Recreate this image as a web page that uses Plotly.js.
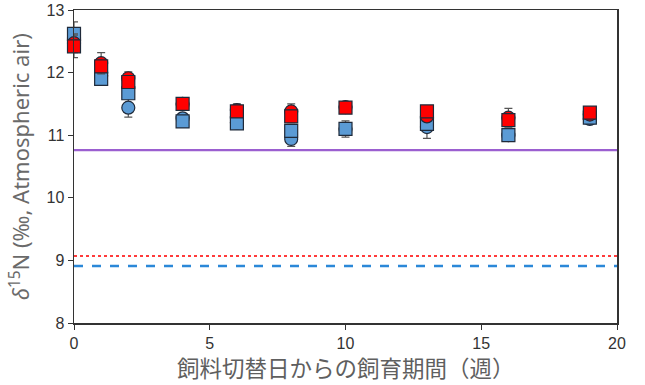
<!DOCTYPE html>
<html>
<head>
<meta charset="utf-8">
<script src="https://cdn.plot.ly/plotly-3.0.1.min.js"></script>
<style>
  html, body { margin: 0; padding: 0; background: #fff; }
  #chart { width: 645px; height: 385px; }
</style>
</head>
<body>
<div id="chart"></div>
<script>
// Sampling weeks after the feed switch
const weeks = [0, 1, 2, 4, 6, 8, 10, 13, 16, 19];

// δ15N means and standard errors per group
const blueCircle    = [12.55, 11.95, 11.44, 11.27, 11.20, 10.94, 11.10, 11.13, 11.00, 11.26];
const blueCircleErr = [0.15, 0.08, 0.15, 0.08, 0.08, 0.12, 0.10, 0.18, 0.08, 0.06];
const blueSquare    = [12.62, 11.90, 11.67, 11.22, 11.19, 11.07, 11.10, 11.18, 11.00, 11.28];
const blueSquareErr = [0.19, 0.06, 0.08, 0.06, 0.08, 0.08, 0.13, 0.08, 0.06, 0.05];
const redCircle     = [12.47, 12.15, 11.91, 11.50, 11.40, 11.38, 11.45, 11.30, 11.28, 11.33];
const redCircleErr  = [0.15, 0.17, 0.10, 0.06, 0.10, 0.12, 0.06, 0.08, 0.15, 0.05];
const redSquare     = [12.42, 12.10, 11.85, 11.50, 11.38, 11.30, 11.44, 11.38, 11.24, 11.36];
const redSquareErr  = [0.18, 0.08, 0.06, 0.05, 0.06, 0.10, 0.05, 0.06, 0.08, 0.05];

// Reference levels drawn across the full period
const spanWeeks   = [0, 20];
const purpleLevel = [10.76, 10.76];
const redLevel    = [9.07, 9.07];
const blueLevel   = [8.91, 8.91];

// Axis titles
const xTitle = '飼料切替日からの飼育期間（週）';
const yTitle = '<i>δ</i><sup>15</sup>N (‰, Atmospheric air)';

const blueFill = '#5b9bd5';
const redFill  = '#ff0000';
const edge     = '#1f2a3a';

function series(y, err, symbol, fill) {
  return {
    x: weeks, y: y, type: 'scatter', mode: 'markers', cliponaxis: false,
    marker: { symbol: symbol, size: 13, color: fill, line: { color: edge, width: 1.2 } },
    error_y: { type: 'data', array: err, visible: true, color: '#555', thickness: 1.2, width: 4 },
    showlegend: false, hoverinfo: 'skip'
  };
}

function level(y, color, dash, width) {
  return {
    x: spanWeeks, y: y, type: 'scatter', mode: 'lines',
    line: { color: color, dash: dash, width: width },
    showlegend: false, hoverinfo: 'skip'
  };
}

const data = [
  level(purpleLevel, '#9b5fd0', 'solid', 2.2),
  level(redLevel, '#ff3b3b', 'dot', 2),
  level(blueLevel, '#2b88d8', 'dash', 2.4),
  series(blueCircle, blueCircleErr, 'circle', blueFill),
  series(blueSquare, blueSquareErr, 'square', blueFill),
  series(redCircle, redCircleErr, 'circle', redFill),
  series(redSquare, redSquareErr, 'square', redFill)
];

const axisCommon = {
  showgrid: false, zeroline: false,
  showline: true, mirror: true, linecolor: '#333', linewidth: 1.5,
  ticks: 'outside', ticklen: 5, tickcolor: '#333',
  tickfont: { size: 16, color: '#333' }
};

const layout = {
  width: 645, height: 385,
  margin: { l: 74, r: 28, t: 10, b: 62 },
  paper_bgcolor: '#fff', plot_bgcolor: '#fff',
  font: { family: 'Liberation Sans, Arial, sans-serif', color: '#333' },
  xaxis: Object.assign({ range: [0, 20], dtick: 5, tick0: 0 }, axisCommon),
  yaxis: Object.assign({ range: [8, 13], dtick: 1, tick0: 8 }, axisCommon),
  annotations: [
    { text: xTitle, xref: 'paper', yref: 'paper', x: 0.5, y: -0.142,
      xanchor: 'center', yanchor: 'middle', showarrow: false,
      font: { family: 'Noto Sans CJK JP, sans-serif', size: 22.5, color: '#5f5f5f' } },
    { text: yTitle, xref: 'paper', yref: 'paper', x: -0.1, y: 0.5, textangle: -90,
      xanchor: 'center', yanchor: 'middle', showarrow: false,
      font: { family: 'Noto Sans, sans-serif', size: 22, color: '#6a6a6a' } }
  ]
};

Plotly.newPlot('chart', data, layout, { staticPlot: true });
</script>
</body>
</html>
